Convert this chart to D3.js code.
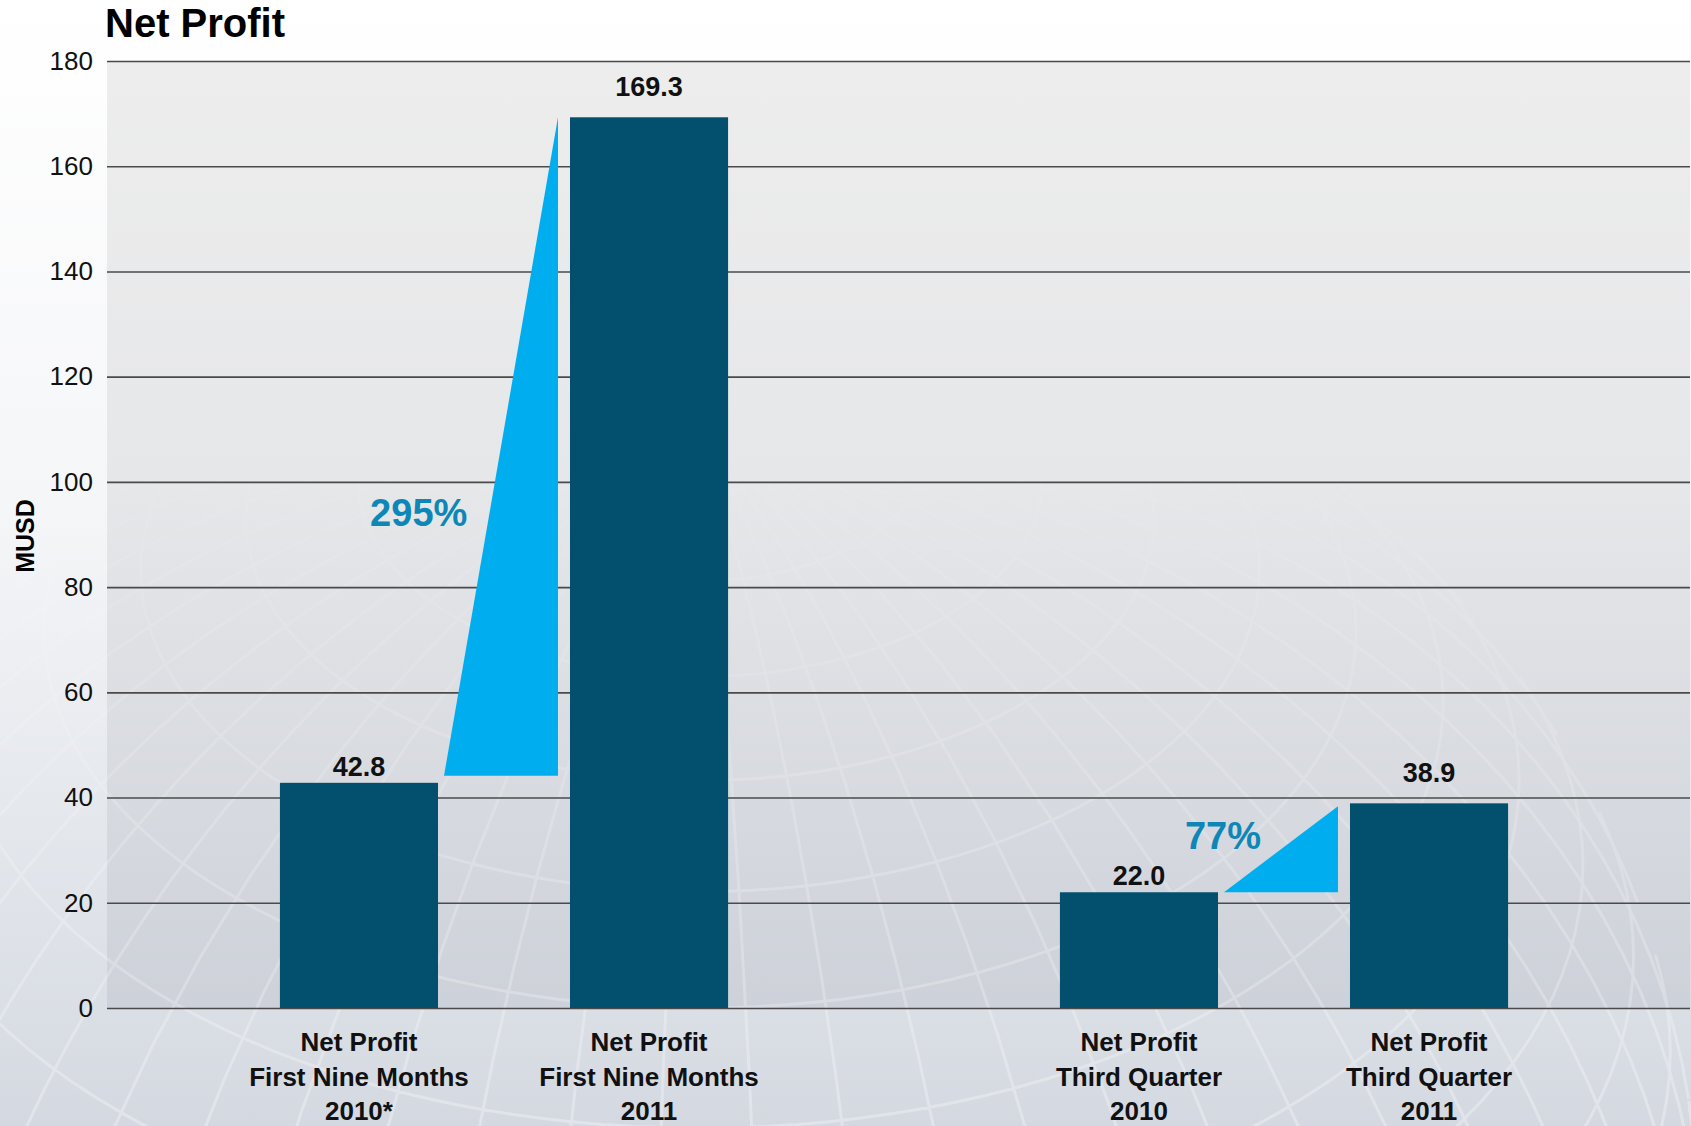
<!DOCTYPE html>
<html>
<head>
<meta charset="utf-8">
<script src="https://cdn.jsdelivr.net/npm/d3@7"></script>
<style>
  body { margin: 0; background: #fff; }
  text { font-family: "Liberation Sans", Arial, sans-serif; }
</style>
</head>
<body>
<script>
// chart data
const title = "Net Profit";
const yLabel = "MUSD";
const groups = ["First Nine Months", "Third Quarter"];
const categoryLines = [
  ["Net Profit", "First Nine Months", "2010*"],
  ["Net Profit", "First Nine Months", "2011"],
  ["Net Profit", "Third Quarter", "2010"],
  ["Net Profit", "Third Quarter", "2011"]
];
const barGroup = [0, 0, 1, 1];
const barIndex = [0, 1, 0, 1];
const values = [42.8, 169.3, 22.0, 38.9];
const valueLabels = ["42.8", "169.3", "22.0", "38.9"];
const changeLabels = ["295%", "77%"];
const yTicks = [0, 20, 40, 60, 80, 100, 120, 140, 160, 180];

function main() {
  const width = 1691, height = 1126;
  const plot = { left: 107, right: 1690, top: 61, bottom: 1008 };

  const svg = d3.select("body").append("svg")
    .attr("width", width)
    .attr("height", height);

  const defs = svg.append("defs");

  // page background: white at top, blue-grey at bottom
  const bgGrad = defs.append("linearGradient")
    .attr("id", "bg").attr("x1", 0).attr("y1", 0).attr("x2", 0).attr("y2", 1);
  bgGrad.append("stop").attr("offset", "0%").attr("stop-color", "#ffffff");
  bgGrad.append("stop").attr("offset", "45%").attr("stop-color", "#f5f6f8");
  bgGrad.append("stop").attr("offset", "100%").attr("stop-color", "#d4d9e1");

  // plot area background
  const plotGrad = defs.append("linearGradient")
    .attr("id", "plotbg").attr("x1", 0).attr("y1", 0).attr("x2", 0).attr("y2", 1);
  plotGrad.append("stop").attr("offset", "0%").attr("stop-color", "#ededed");
  plotGrad.append("stop").attr("offset", "45%").attr("stop-color", "#e6e7e9");
  plotGrad.append("stop").attr("offset", "100%").attr("stop-color", "#cdd1d9");

  // fade for the globe lines
  const fade = defs.append("linearGradient")
    .attr("id", "fade").attr("x1", 0).attr("y1", 0).attr("x2", 0).attr("y2", 1);
  fade.append("stop").attr("offset", "0%").attr("stop-color", "#fff").attr("stop-opacity", 0);
  fade.append("stop").attr("offset", "40%").attr("stop-color", "#fff").attr("stop-opacity", 0.1);
  fade.append("stop").attr("offset", "100%").attr("stop-color", "#fff").attr("stop-opacity", 1);
  defs.append("mask").attr("id", "globeMask")
    .append("rect").attr("width", width).attr("height", height).attr("fill", "url(#fade)");

  svg.append("rect").attr("width", width).attr("height", height).attr("fill", "url(#bg)");
  svg.append("rect")
    .attr("x", plot.left).attr("y", plot.top)
    .attr("width", plot.right - plot.left).attr("height", plot.bottom - plot.top)
    .attr("fill", "url(#plotbg)");

  // decorative globe wireframe
  const projection = d3.geoOrthographic()
    .scale(1000)
    .translate([700, 1250])
    .rotate([25, -35]);
  const geoPath = d3.geoPath(projection);
  svg.append("path")
    .datum(d3.geoGraticule().step([7, 7])())
    .attr("d", geoPath)
    .attr("fill", "none")
    .attr("stroke", "#ffffff")
    .attr("stroke-opacity", 0.3)
    .attr("stroke-width", 3)
    .attr("mask", "url(#globeMask)");

  // scales
  const y = d3.scaleLinear().domain([0, 180]).range([plot.bottom, plot.top]);
  const xGroup = d3.scaleBand().domain(groups).range([114, 1674]);
  const xInner = d3.scaleBand().domain([0, 1])
    .range([0, xGroup.bandwidth()])
    .paddingInner(0.455)
    .paddingOuter(0.572);
  const barX = i => xGroup(groups[barGroup[i]]) + xInner(barIndex[i]);

  // gridlines + tick labels
  const axis = svg.append("g")
    .attr("transform", `translate(${plot.left},0)`)
    .call(d3.axisLeft(y).tickValues(yTicks).tickSize(-(plot.right - plot.left)).tickPadding(14));
  axis.select(".domain").remove();
  axis.selectAll(".tick line").attr("stroke", "#4a4a4a").attr("stroke-width", 1.6);
  axis.selectAll(".tick text")
    .attr("fill", "#111")
    .style("font-size", "26px")
    .style("font-family", "'Liberation Sans', Arial, sans-serif");

  // bars
  svg.append("g").selectAll("rect")
    .data(values)
    .join("rect")
      .attr("x", (d, i) => barX(i))
      .attr("y", d => y(d))
      .attr("width", xInner.bandwidth())
      .attr("height", d => y(0) - y(d))
      .attr("fill", "#02506e");

  // value labels (the earlier bar's label sits tighter to its bar)
  svg.append("g").selectAll("text")
    .data(values)
    .join("text")
      .attr("x", (d, i) => barX(i) + xInner.bandwidth() / 2)
      .attr("y", (d, i) => y(d) - (barIndex[i] === 0 ? 7 : 21))
      .attr("text-anchor", "middle")
      .style("font-size", "27px")
      .style("font-weight", "bold")
      .attr("fill", "#111")
      .text((d, i) => valueLabels[i]);

  // growth wedges between the two bars of each group
  const labelAt = [0.38, 0.5];
  groups.forEach((g, gi) => {
    const a = gi * 2, b = gi * 2 + 1;
    const x0 = barX(a) + xInner.bandwidth() + 6;
    const x1 = barX(b) - 12;
    const yb = y(values[a]) - (gi === 0 ? 7 : 0);
    const yt = y(values[b]) + (gi === 0 ? 0 : 3);
    svg.append("path")
      .attr("d", d3.line()([[x0, yb], [x1, yb], [x1, yt]]) + "Z")
      .attr("fill", "#00aeef");
    const ly = yb - (yb - yt) * labelAt[gi];
    const hx = x0 + (x1 - x0) * labelAt[gi];
    svg.append("text")
      .attr("x", hx - 20)
      .attr("y", ly)
      .attr("text-anchor", "end")
      .style("font-size", "38px")
      .style("font-weight", "bold")
      .attr("fill", "#0e87b7")
      .text(changeLabels[gi]);
  });

  // category labels
  const cat = svg.append("g").selectAll("text")
    .data(categoryLines)
    .join("text")
      .attr("text-anchor", "middle")
      .style("font-size", "26px")
      .style("font-weight", "bold")
      .attr("fill", "#111");
  cat.selectAll("tspan")
    .data((d, i) => d.map(s => ({ s, i })))
    .join("tspan")
      .attr("x", d => barX(d.i) + xInner.bandwidth() / 2)
      .attr("y", (d, k) => plot.bottom + 43 + k * 34.5)
      .text(d => d.s);

  // title and axis label
  svg.append("text")
    .attr("x", plot.left - 2)
    .attr("y", 37)
    .style("font-size", "40px")
    .style("font-weight", "bold")
    .attr("fill", "#000")
    .text(title);

  svg.append("text")
    .attr("transform", `translate(34,536) rotate(-90)`)
    .attr("text-anchor", "middle")
    .style("font-size", "25px")
    .style("font-weight", "bold")
    .attr("fill", "#000")
    .text(yLabel);
}

main();
</script>
</body>
</html>
